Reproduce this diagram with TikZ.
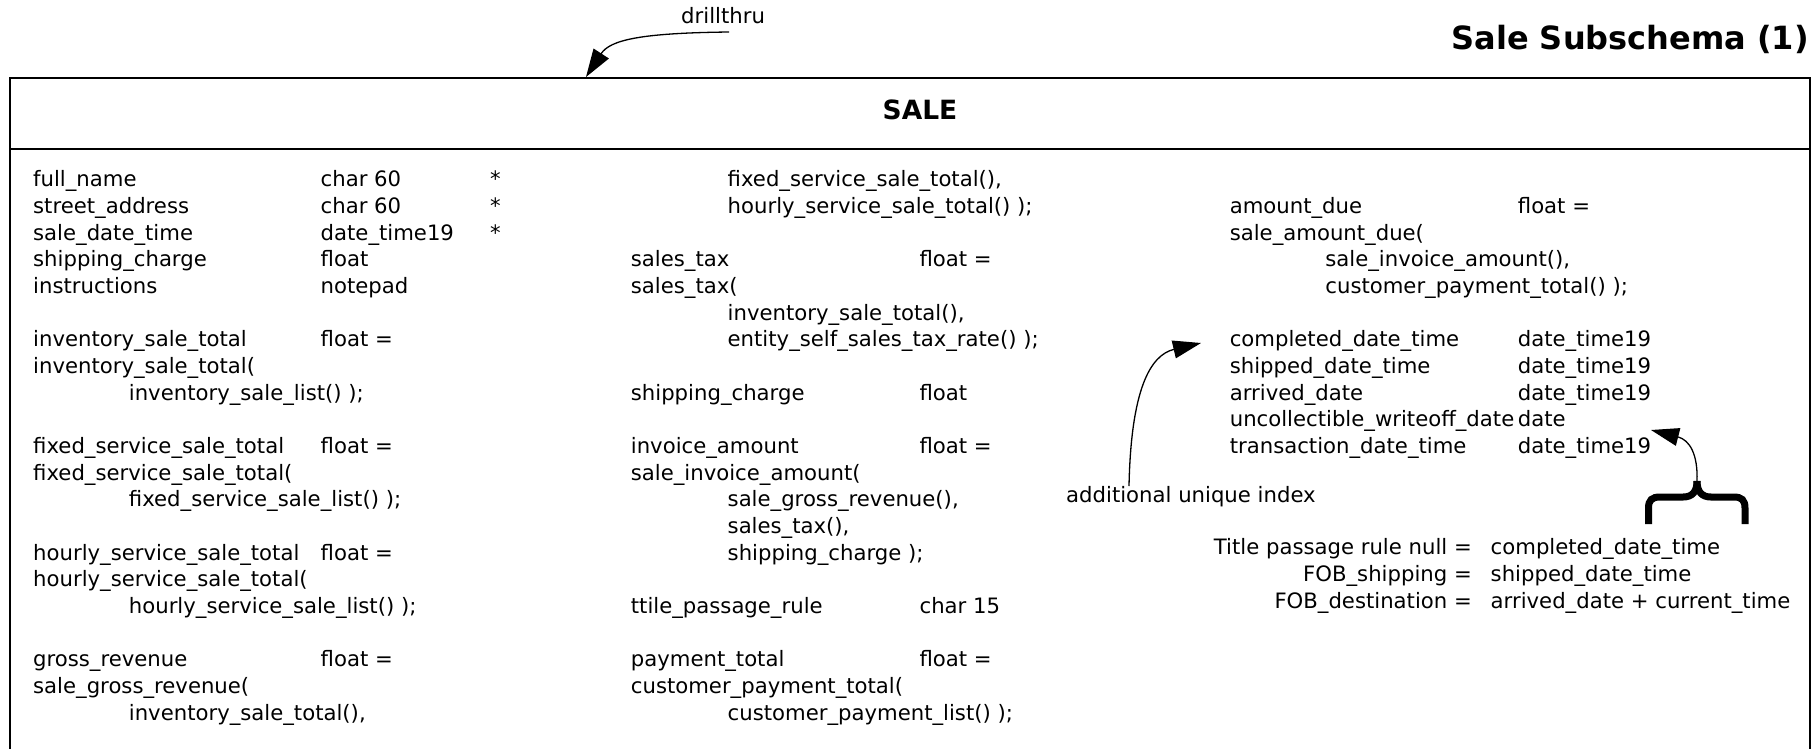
\documentclass[tikz,border=0pt]{standalone}
\usepackage{fontspec}
\setmainfont{DejaVu Sans}
\usetikzlibrary{arrows.meta}
\tikzset{
 txt/.style={inner sep=0pt, anchor=base west, font=\fontsize{21.2}{25}\selectfont},
 txtr/.style={txt, anchor=base east},
 conn/.style={line width=1.3pt, -{Triangle[length=28pt,width=18pt]}},
 boxline/.style={line width=1.6pt},
 bracestyle/.style={line width=7pt},
}
\def\ry#1{186.7+26.667*#1}
\begin{document}
\begin{tikzpicture}[x=1pt,y=-1pt]
\useasboundingbox (0,0) rectangle (1818,748);
% entity box (open at the bottom of the page)
\node[boxline, draw, inner sep=0pt, minimum width=1800pt, minimum height=760pt, anchor=north west] (sale) at (9,77) {};
\draw[boxline] (9,149) -- (1809,149);
\node[inner sep=0pt, anchor=base, font=\fontsize{26.5}{30}\selectfont\bfseries] (salettl) at (920,119.3) {SALE};
\node[inner sep=0pt, anchor=base east, font=\fontsize{32}{37}\selectfont\bfseries] (title) at (1809,49.3) {Sale Subschema (1)};
% column 1
\node[txt] (a0) at (33,{\ry{0}}) {full\_name};
\node[txt] (a0t) at (320.5,{\ry{0}}) {char 60};
\node[txt] (a0k) at (490,{\ry{0}}) {*};
\node[txt] (a1) at (33,{\ry{1}}) {street\_address};
\node[txt] (a1t) at (320.5,{\ry{1}}) {char 60};
\node[txt] (a1k) at (490,{\ry{1}}) {*};
\node[txt] (a2) at (33,{\ry{2}}) {sale\_date\_time};
\node[txt] (a2t) at (320.5,{\ry{2}}) {date\_time19};
\node[txt] (a2k) at (490,{\ry{2}}) {*};
\node[txt] (a3) at (33,{\ry{3}}) {shipping\_charge};
\node[txt] (a3t) at (320.5,{\ry{3}}) {float};
\node[txt] (a4) at (33,{\ry{4}}) {instructions};
\node[txt] (a4t) at (320.5,{\ry{4}}) {notepad};
\node[txt] (a6) at (33,{\ry{6}}) {inventory\_sale\_total};
\node[txt] (a6t) at (320.5,{\ry{6}}) {float =};
\node[txt] (a7) at (33,{\ry{7}}) {inventory\_sale\_total(};
\node[txt] (a8) at (128.7,{\ry{8}}) {inventory\_sale\_list() );};
\node[txt] (a10) at (33,{\ry{10}}) {fixed\_service\_sale\_total};
\node[txt] (a10t) at (320.5,{\ry{10}}) {float =};
\node[txt] (a11) at (33,{\ry{11}}) {fixed\_service\_sale\_total(};
\node[txt] (a12) at (128.7,{\ry{12}}) {fixed\_service\_sale\_list() );};
\node[txt] (a14) at (33,{\ry{14}}) {hourly\_service\_sale\_total};
\node[txt] (a14t) at (320.5,{\ry{14}}) {float =};
\node[txt] (a15) at (33,{\ry{15}}) {hourly\_service\_sale\_total(};
\node[txt] (a16) at (128.7,{\ry{16}}) {hourly\_service\_sale\_list() );};
\node[txt] (a18) at (33,{\ry{18}}) {gross\_revenue};
\node[txt] (a18t) at (320.5,{\ry{18}}) {float =};
\node[txt] (a19) at (33,{\ry{19}}) {sale\_gross\_revenue(};
\node[txt] (a20) at (128.7,{\ry{20}}) {inventory\_sale\_total(),};
% column 2
\node[txt] (b0) at (727.5,{\ry{0}}) {fixed\_service\_sale\_total(),};
\node[txt] (b1) at (727.5,{\ry{1}}) {hourly\_service\_sale\_total() );};
\node[txt] (b3) at (630.7,{\ry{3}}) {sales\_tax};
\node[txt] (b3t) at (919.4,{\ry{3}}) {float =};
\node[txt] (b4) at (630.7,{\ry{4}}) {sales\_tax(};
\node[txt] (b5) at (727.5,{\ry{5}}) {inventory\_sale\_total(),};
\node[txt] (b6) at (727.5,{\ry{6}}) {entity\_self\_sales\_tax\_rate() );};
\node[txt] (b8) at (630.7,{\ry{8}}) {shipping\_charge};
\node[txt] (b8t) at (919.4,{\ry{8}}) {float};
\node[txt] (b10) at (630.7,{\ry{10}}) {invoice\_amount};
\node[txt] (b10t) at (919.4,{\ry{10}}) {float =};
\node[txt] (b11) at (630.7,{\ry{11}}) {sale\_invoice\_amount(};
\node[txt] (b12) at (727.5,{\ry{12}}) {sale\_gross\_revenue(),};
\node[txt] (b13) at (727.5,{\ry{13}}) {sales\_tax(),};
\node[txt] (b14) at (727.5,{\ry{14}}) {shipping\_charge );};
\node[txt] (b16) at (630.7,{\ry{16}}) {ttile\_passage\_rule};
\node[txt] (b16t) at (919.4,{\ry{16}}) {char 15};
\node[txt] (b18) at (630.7,{\ry{18}}) {payment\_total};
\node[txt] (b18t) at (919.4,{\ry{18}}) {float =};
\node[txt] (b19) at (630.7,{\ry{19}}) {customer\_payment\_total(};
\node[txt] (b20) at (727.5,{\ry{20}}) {customer\_payment\_list() );};
% column 3
\node[txt] (c1) at (1229.6,{\ry{1}}) {amount\_due};
\node[txt] (c1t) at (1517.7,{\ry{1}}) {float =};
\node[txt] (c2) at (1229.6,{\ry{2}}) {sale\_amount\_due(};
\node[txt] (c3) at (1325.2,{\ry{3}}) {sale\_invoice\_amount(),};
\node[txt] (c4) at (1325.2,{\ry{4}}) {customer\_payment\_total() );};
\node[txt] (c6) at (1229.6,{\ry{6}}) {completed\_date\_time};
\node[txt] (c6t) at (1517.7,{\ry{6}}) {date\_time19};
\node[txt] (c7) at (1229.6,{\ry{7}}) {shipped\_date\_time};
\node[txt] (c7t) at (1517.7,{\ry{7}}) {date\_time19};
\node[txt] (c8) at (1229.6,{\ry{8}}) {arrived\_date};
\node[txt] (c8t) at (1517.7,{\ry{8}}) {date\_time19};
\node[txt] (c9) at (1229.6,{\ry{9}}) {uncollectible\_writeoff\_date};
\node[txt] (c9t) at (1517.7,{\ry{9}}) {date};
\node[txt] (c10) at (1229.6,{\ry{10}}) {transaction\_date\_time};
\node[txt] (c10t) at (1517.7,{\ry{10}}) {date\_time19};
% title passage notes
\node[txtr] (tp1) at (1472,554.7) {Title passage rule null =};
\node[txt] (tp1v) at (1490.5,554.7) {completed\_date\_time};
\node[txtr] (tp2) at (1472,581.3) {FOB\_shipping =};
\node[txt] (tp2v) at (1490.5,581.3) {shipped\_date\_time};
\node[txtr] (tp3) at (1472,608) {FOB\_destination =};
\node[txt] (tp3v) at (1490.5,608) {arrived\_date + current\_time};
% annotations
\node[txt] (drill) at (681,23) {drillthru};
\node[txt] (uidx) at (1066,502) {additional unique index};
\coordinate (drillfrom) at (729,32);
\coordinate (drillto) at (586,77);
\coordinate (uidxfrom) at (1129,486);
\coordinate (uidxto) at (1201,343);
\coordinate (bracetip) at (1697,481);
\coordinate (braceto) at (1651,430);
\draw[conn] (drillfrom) .. controls (640,33) and (610,40) .. (drillto);
\draw[conn] (uidxfrom) .. controls (1131,390) and (1150,355) .. (uidxto);
% brace
\draw[bracestyle] (1648.5,524) -- (1648.5,508) .. controls (1648.5,500) and (1652,497) .. (1660,497) -- (1683,497) .. controls (1692,497) and (1697,492) .. (bracetip);
\draw[bracestyle] (1745,524) -- (1745,508) .. controls (1745,500) and (1741.5,497) .. (1734,497) -- (1711,497) .. controls (1702,497) and (1697,492) .. (bracetip);
\draw[conn] (bracetip) .. controls (1698,455) and (1690,440) .. (braceto);
\end{tikzpicture}
\end{document}
